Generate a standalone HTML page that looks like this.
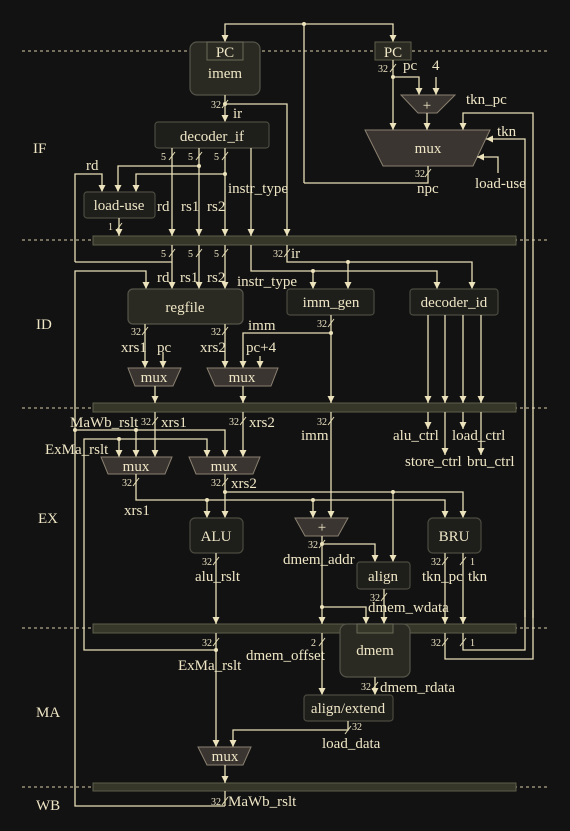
<!DOCTYPE html>
<html><head><meta charset="utf-8"><style>
html,body{margin:0;padding:0;background:#121212;}
svg{display:block;}
text{font-family:"Liberation Serif",serif;fill:#efe6c6;}
.t{font-size:15px;}
.s{font-size:10px;}
.w{stroke:#e6ddb6;stroke-width:1.3;fill:none;}
.box{fill:#1e1e1b;stroke:#4b4b40;stroke-width:1.2;}
.boxd{fill:#2a2a22;stroke:#55554a;stroke-width:1.2;}
.mux{fill:#3a3531;stroke:#8a8070;stroke-width:1;}
.bar{fill:#363629;stroke:#5e5e4a;stroke-width:1;}
.dash{stroke:#d8cfa8;stroke-width:1;stroke-dasharray:3,3;}
.sl{stroke:#e6ddb6;stroke-width:1;}
</style></head><body>
<svg width="570" height="831" viewBox="0 0 570 831" xmlns="http://www.w3.org/2000/svg">
<defs>
<marker id="a" viewBox="0 0 10 10" refX="10" refY="5" markerWidth="7" markerHeight="7" orient="auto-start-reverse" markerUnits="userSpaceOnUse">
<path d="M0,0 L10,5 L0,10 z" fill="#ece3bc"/></marker>
</defs>
<rect width="570" height="831" fill="#121212"/>

<!-- dashed stage lines -->
<line class="dash" x1="22" y1="51" x2="549" y2="51"/>
<line class="dash" x1="22" y1="240" x2="549" y2="240"/>
<line class="dash" x1="22" y1="408" x2="549" y2="408"/>
<line class="dash" x1="22" y1="628" x2="549" y2="628"/>
<line class="dash" x1="22" y1="787" x2="549" y2="787"/>

<!-- stage labels -->
<text class="t" x="33" y="153">IF</text>
<text class="t" x="36" y="329">ID</text>
<text class="t" x="38" y="523">EX</text>
<text class="t" x="36" y="717">MA</text>
<text class="t" x="36" y="810">WB</text>

<!-- bars -->
<rect class="bar" x="93" y="236" width="423" height="9"/>
<rect class="bar" x="93" y="403" width="423" height="9"/>
<rect class="bar" x="93" y="624" width="423" height="9"/>
<rect class="bar" x="93" y="783" width="423" height="8"/>

<!-- ===== IF ===== -->
<polyline class="w" points="304,183 304,24 225,24 225,42" marker-end="url(#a)"/>
<polyline class="w" points="304,24 393,24 393,42" marker-end="url(#a)"/>
<circle cx="304" cy="24" r="2" fill="#ece3bc"/>

<rect class="boxd" x="190" y="42" width="70" height="53" rx="7"/>
<rect x="207" y="42" width="36" height="18" fill="none" stroke="#6a6a58" stroke-width="1"/>
<text class="t" x="225" y="57" text-anchor="middle">PC</text>
<text class="t" x="225" y="78" text-anchor="middle">imem</text>

<rect x="375" y="42" width="36" height="18" fill="#2a2a22" stroke="#5e5e4a"/>
<text class="t" x="393" y="57" text-anchor="middle">PC</text>

<polyline class="w" points="393,60 393,130" marker-end="url(#a)"/>
<line class="sl" x1="390" y1="72" x2="396" y2="64"/><text class="s" x="378" y="72">32</text>
<text class="t" x="403" y="70">pc</text>
<polyline class="w" points="393,77 419,77 419,95" marker-end="url(#a)"/>
<circle cx="393" cy="77" r="2" fill="#ece3bc"/>
<text class="t" x="432" y="70">4</text>
<polyline class="w" points="436,77 436,95" marker-end="url(#a)"/>
<polygon class="mux" points="401,95 455,95 437,113 418,113"/>
<text class="t" x="427" y="110" text-anchor="middle">+</text>
<polyline class="w" points="427,113 427,130" marker-end="url(#a)"/>

<polyline class="w" points="533,618 533,113 463,113 463,130" marker-end="url(#a)"/>
<text class="t" x="466" y="104">tkn_pc</text>
<polygon class="mux" points="365,130 490,130 473,166 383,166"/>
<text class="t" x="428" y="153" text-anchor="middle">mux</text>
<polyline class="w" points="525,617 525,139 486,139" marker-end="url(#a)"/>
<text class="t" x="497" y="136">tkn</text>
<polyline class="w" points="498,173 498,157 477,157" marker-end="url(#a)"/>
<text class="t" x="475" y="188">load-use</text>
<polyline class="w" points="428,166 428,183 304,183"/>
<line class="sl" x1="425" y1="177" x2="431" y2="169"/><text class="s" x="415" y="177">32</text>
<text class="t" x="417" y="193">npc</text>

<!-- imem out -->
<polyline class="w" points="225,95 225,122" marker-end="url(#a)"/>
<line class="sl" x1="222" y1="108" x2="228" y2="100"/><text class="s" x="211" y="108">32</text>
<circle cx="225" cy="104" r="2" fill="#ece3bc"/>
<text class="t" x="233" y="118">ir</text>
<polyline class="w" points="225,104 287,104 287,236" marker-end="url(#a)"/>

<rect class="box" x="155" y="122" width="114" height="26" rx="3"/>
<text class="t" x="212" y="141" text-anchor="middle">decoder_if</text>

<polyline class="w" points="172,148 172,236" marker-end="url(#a)"/>
<polyline class="w" points="199,148 199,236" marker-end="url(#a)"/>
<polyline class="w" points="225,148 225,236" marker-end="url(#a)"/>
<polyline class="w" points="251,148 251,236" marker-end="url(#a)"/>
<line class="sl" x1="169" y1="160" x2="175" y2="152"/><text class="s" x="161" y="160">5</text>
<line class="sl" x1="196" y1="160" x2="202" y2="152"/><text class="s" x="188" y="160">5</text>
<line class="sl" x1="222" y1="160" x2="228" y2="152"/><text class="s" x="214" y="160">5</text>
<polyline class="w" points="199,166 118,166 118,192" marker-end="url(#a)"/>
<circle cx="199" cy="166" r="2" fill="#ece3bc"/>
<polyline class="w" points="225,174 136,174 136,192" marker-end="url(#a)"/>
<circle cx="225" cy="174" r="2" fill="#ece3bc"/>
<polyline class="w" points="75,262 75,174 102,174 102,192" marker-end="url(#a)"/>
<text class="t" x="86" y="170">rd</text>
<text class="t" x="228" y="193">instr_type</text>

<rect class="box" x="84" y="192" width="71" height="26" rx="3"/>
<text class="t" x="119" y="210" text-anchor="middle">load-use</text>
<text class="t" x="157" y="211">rd</text>
<text class="t" x="181" y="211">rs1</text>
<text class="t" x="207" y="211">rs2</text>
<polyline class="w" points="119,218 119,236" marker-end="url(#a)"/>
<line class="sl" x1="116" y1="231" x2="122" y2="223"/><text class="s" x="108" y="230">1</text>

<!-- ===== ID ===== -->
<polyline class="w" points="172,245 172,289" marker-end="url(#a)"/>
<polyline class="w" points="199,245 199,289" marker-end="url(#a)"/>
<polyline class="w" points="225,245 225,289" marker-end="url(#a)"/>
<line class="sl" x1="169" y1="257" x2="175" y2="249"/><text class="s" x="161" y="257">5</text>
<line class="sl" x1="196" y1="257" x2="202" y2="249"/><text class="s" x="188" y="257">5</text>
<line class="sl" x1="222" y1="257" x2="228" y2="249"/><text class="s" x="214" y="257">5</text>
<line class="sl" x1="284" y1="257" x2="290" y2="249"/><text class="s" x="273" y="257">32</text>
<text class="t" x="291" y="258">ir</text>
<polyline class="w" points="172,262 75,262"/>
<polyline class="w" points="287,245 287,262 472,262 472,289" marker-end="url(#a)"/>
<polyline class="w" points="348,262 348,289" marker-end="url(#a)"/>
<circle cx="348" cy="262" r="2" fill="#ece3bc"/>
<polyline class="w" points="251,245 251,271 437,271 437,289" marker-end="url(#a)"/>
<polyline class="w" points="313,271 313,289" marker-end="url(#a)"/>
<circle cx="313" cy="271" r="2" fill="#ece3bc"/>
<polyline class="w" points="225,806 75,806 75,271 146,271 146,289" marker-end="url(#a)"/>
<text class="t" x="157" y="282">rd</text>
<text class="t" x="180" y="282">rs1</text>
<text class="t" x="207" y="282">rs2</text>
<text class="t" x="237" y="286">instr_type</text>

<rect class="boxd" x="128" y="289" width="115" height="35" rx="5"/>
<text class="t" x="185" y="312" text-anchor="middle">regfile</text>
<rect class="box" x="287" y="289" width="87" height="26" rx="3"/>
<text class="t" x="331" y="307" text-anchor="middle">imm_gen</text>
<rect class="box" x="410" y="289" width="88" height="26" rx="3"/>
<text class="t" x="454" y="307" text-anchor="middle">decoder_id</text>

<polyline class="w" points="145,324 145,368" marker-end="url(#a)"/>
<line class="sl" x1="142" y1="335" x2="148" y2="327"/><text class="s" x="131" y="335">32</text>
<text class="t" x="121" y="352">xrs1</text>
<text class="t" x="157" y="352">pc</text>
<polyline class="w" points="163,352 163,368" marker-end="url(#a)"/>
<polyline class="w" points="225,324 225,368" marker-end="url(#a)"/>
<line class="sl" x1="222" y1="335" x2="228" y2="327"/><text class="s" x="211" y="335">32</text>
<text class="t" x="200" y="352">xrs2</text>
<polyline class="w" points="331,315 331,403" marker-end="url(#a)"/>
<line class="sl" x1="328" y1="327" x2="334" y2="319"/><text class="s" x="317" y="327">32</text>
<polyline class="w" points="331,333 243,333 243,368" marker-end="url(#a)"/>
<circle cx="331" cy="333" r="2" fill="#ece3bc"/>
<text class="t" x="248" y="330">imm</text>
<text class="t" x="246" y="352">pc+4</text>
<polyline class="w" points="260,356 260,368" marker-end="url(#a)"/>

<polygon class="mux" points="128,368 181,368 173,386 135,386"/>
<text class="t" x="154" y="382" text-anchor="middle">mux</text>
<polygon class="mux" points="207,368 278,368 271,386 215,386"/>
<text class="t" x="242" y="382" text-anchor="middle">mux</text>
<polyline class="w" points="155,386 155,403" marker-end="url(#a)"/>
<polyline class="w" points="243,386 243,403" marker-end="url(#a)"/>

<polyline class="w" points="428,315 428,403" marker-end="url(#a)"/>
<polyline class="w" points="445,315 445,403" marker-end="url(#a)"/>
<polyline class="w" points="463,315 463,403" marker-end="url(#a)"/>
<polyline class="w" points="481,315 481,403" marker-end="url(#a)"/>

<!-- ===== EX ===== -->
<polyline class="w" points="428,412 428,429" marker-end="url(#a)"/>
<polyline class="w" points="445,412 445,455" marker-end="url(#a)"/>
<polyline class="w" points="463,412 463,429" marker-end="url(#a)"/>
<polyline class="w" points="481,412 481,455" marker-end="url(#a)"/>
<text class="t" x="393" y="440">alu_ctrl</text>
<text class="t" x="452" y="440">load_ctrl</text>
<text class="t" x="405" y="466">store_ctrl</text>
<text class="t" x="467" y="466">bru_ctrl</text>

<polyline class="w" points="155,412 155,457" marker-end="url(#a)"/>
<line class="sl" x1="152" y1="425" x2="158" y2="417"/><text class="s" x="141" y="425">32</text>
<text class="t" x="161" y="427">xrs1</text>
<polyline class="w" points="243,412 243,457" marker-end="url(#a)"/>
<line class="sl" x1="240" y1="425" x2="246" y2="417"/><text class="s" x="229" y="425">32</text>
<text class="t" x="249" y="427">xrs2</text>
<line class="sl" x1="328" y1="425" x2="334" y2="417"/><text class="s" x="317" y="425">32</text>
<text class="t" x="301" y="440">imm</text>
<polyline class="w" points="331,412 331,518" marker-end="url(#a)"/>

<text class="t" x="70" y="427">MaWb_rslt</text>
<polyline class="w" points="75,430 225,430 225,457" marker-end="url(#a)"/>
<polyline class="w" points="136,430 136,457" marker-end="url(#a)"/>
<circle cx="75" cy="430" r="2" fill="#ece3bc"/>
<circle cx="136" cy="430" r="2" fill="#ece3bc"/>
<text class="t" x="45" y="454">ExMa_rslt</text>
<polyline class="w" points="216,650 84,650 84,439 207,439 207,457" marker-end="url(#a)"/>
<polyline class="w" points="119,439 119,457" marker-end="url(#a)"/>
<circle cx="119" cy="439" r="2" fill="#ece3bc"/>

<polygon class="mux" points="101,457 172,457 165,474 108,474"/>
<text class="t" x="136" y="471" text-anchor="middle">mux</text>
<polygon class="mux" points="189,457 260,457 253,474 196,474"/>
<text class="t" x="224" y="471" text-anchor="middle">mux</text>

<polyline class="w" points="136,474 136,500 445,500 445,518" marker-end="url(#a)"/>
<line class="sl" x1="133" y1="486" x2="139" y2="478"/><text class="s" x="122" y="486">32</text>
<text class="t" x="124" y="515">xrs1</text>
<polyline class="w" points="207,500 207,518" marker-end="url(#a)"/>
<circle cx="207" cy="500" r="2" fill="#ece3bc"/>
<polyline class="w" points="313,500 313,518" marker-end="url(#a)"/>
<circle cx="313" cy="500" r="2" fill="#ece3bc"/>
<polyline class="w" points="225,474 225,518" marker-end="url(#a)"/>
<line class="sl" x1="222" y1="486" x2="228" y2="478"/><text class="s" x="211" y="486">32</text>
<text class="t" x="231" y="488">xrs2</text>
<polyline class="w" points="225,492 463,492 463,518" marker-end="url(#a)"/>
<circle cx="225" cy="492" r="2" fill="#ece3bc"/>
<polyline class="w" points="393,492 393,562" marker-end="url(#a)"/>
<circle cx="393" cy="492" r="2" fill="#ece3bc"/>

<rect class="box" x="190" y="518" width="53" height="35" rx="5"/>
<text class="t" x="216" y="541" text-anchor="middle">ALU</text>
<polygon class="mux" points="295,518 348,518 338,536 305,536"/>
<text class="t" x="322" y="532" text-anchor="middle">+</text>
<rect class="box" x="428" y="518" width="53" height="35" rx="5"/>
<text class="t" x="454" y="541" text-anchor="middle">BRU</text>

<polyline class="w" points="216,553 216,624" marker-end="url(#a)"/>
<line class="sl" x1="213" y1="565" x2="219" y2="557"/><text class="s" x="202" y="565">32</text>
<text class="t" x="195" y="581">alu_rslt</text>

<polyline class="w" points="322,536 322,624" marker-end="url(#a)"/>
<line class="sl" x1="319" y1="548" x2="325" y2="540"/><text class="s" x="308" y="548">32</text>
<circle cx="322" cy="544" r="2" fill="#ece3bc"/>
<polyline class="w" points="322,544 375,544 375,562" marker-end="url(#a)"/>
<text class="t" x="283" y="564">dmem_addr</text>
<polyline class="w" points="322,607 366,607 366,624" marker-end="url(#a)"/>
<circle cx="322" cy="607" r="2" fill="#ece3bc"/>

<rect class="box" x="357" y="562" width="53" height="27" rx="3"/>
<text class="t" x="383" y="581" text-anchor="middle">align</text>
<polyline class="w" points="384,589 384,624" marker-end="url(#a)"/>
<line class="sl" x1="381" y1="601" x2="387" y2="593"/><text class="s" x="370" y="601">32</text>
<text class="t" x="368" y="612">dmem_wdata</text>

<polyline class="w" points="445,553 445,624" marker-end="url(#a)"/>
<polyline class="w" points="463,553 463,624" marker-end="url(#a)"/>
<line class="sl" x1="442" y1="565" x2="448" y2="557"/><text class="s" x="431" y="565">32</text>
<line class="sl" x1="460" y1="565" x2="466" y2="557"/><text class="s" x="470" y="565">1</text>
<text class="t" x="422" y="581">tkn_pc</text>
<text class="t" x="468" y="581">tkn</text>

<!-- ===== MA ===== -->
<rect class="boxd" x="340" y="624" width="70" height="53" rx="7"/>
<rect x="357" y="624" width="36" height="9" fill="#363629" stroke="#6a6a58" stroke-width="1"/>
<text class="t" x="375" y="655" text-anchor="middle">dmem</text>

<polyline class="w" points="216,633 216,747" marker-end="url(#a)"/>
<line class="sl" x1="213" y1="646" x2="219" y2="638"/><text class="s" x="202" y="646">32</text>
<circle cx="216" cy="650" r="2" fill="#ece3bc"/>
<text class="t" x="178" y="670">ExMa_rslt</text>
<polyline class="w" points="322,633 322,695" marker-end="url(#a)"/>
<line class="sl" x1="319" y1="646" x2="325" y2="638"/><text class="s" x="311" y="646">2</text>
<text class="t" x="246" y="660">dmem_offset</text>
<polyline class="w" points="445,633 445,659 533,659 533,610"/>
<polyline class="w" points="463,633 463,650 525,650 525,610"/>
<line class="sl" x1="442" y1="646" x2="448" y2="638"/><text class="s" x="431" y="646">32</text>
<line class="sl" x1="460" y1="646" x2="466" y2="638"/><text class="s" x="470" y="646">1</text>

<polyline class="w" points="375,677 375,695" marker-end="url(#a)"/>
<line class="sl" x1="372" y1="690" x2="378" y2="682"/><text class="s" x="361" y="690">32</text>
<text class="t" x="380" y="692">dmem_rdata</text>

<rect class="box" x="304" y="695" width="89" height="26" rx="3"/>
<text class="t" x="348" y="713" text-anchor="middle">align/extend</text>
<polyline class="w" points="348,721 348,730 233,730 233,747" marker-end="url(#a)"/>
<line class="sl" x1="345" y1="734" x2="351" y2="726"/><text class="s" x="352" y="730">32</text>
<text class="t" x="322" y="748">load_data</text>

<polygon class="mux" points="198,747 251,747 243,765 207,765"/>
<text class="t" x="225" y="761" text-anchor="middle">mux</text>
<polyline class="w" points="225,765 225,783" marker-end="url(#a)"/>

<!-- WB -->
<polyline class="w" points="225,791 225,806"/>
<line class="sl" x1="222" y1="805" x2="228" y2="797"/><text class="s" x="211" y="805">32</text>
<text class="t" x="228" y="806">MaWb_rslt</text>
</svg>
</body></html>
